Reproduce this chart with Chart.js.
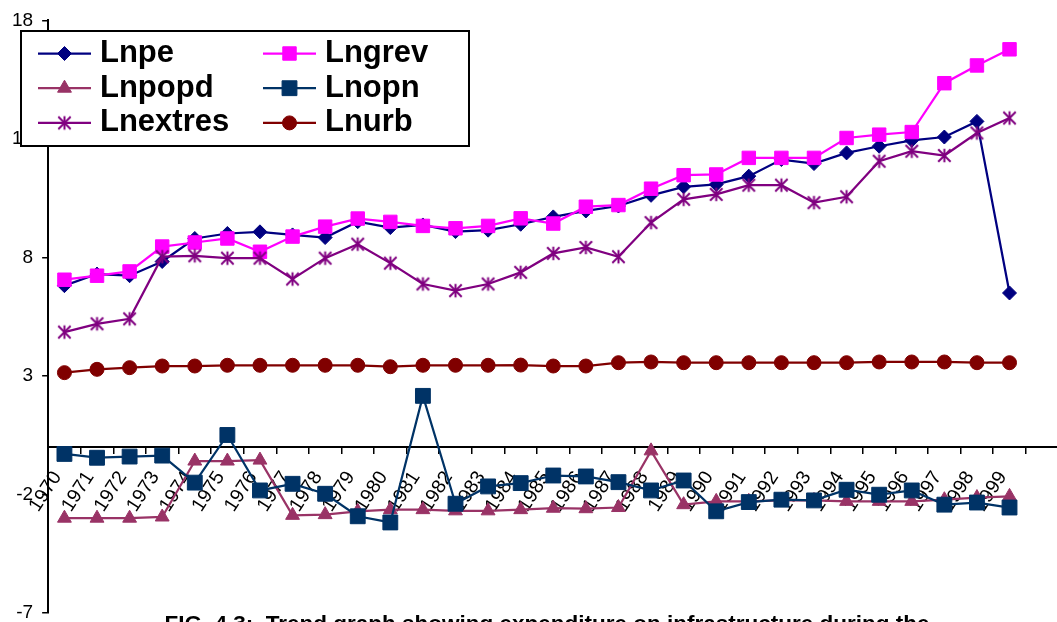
<!DOCTYPE html>
<html>
<head>
<meta charset="utf-8">
<script src="https://cdn.jsdelivr.net/npm/chart.js@4.4.1/dist/chart.umd.min.js"></script>
<style>
  html, body { margin: 0; padding: 0; overflow: hidden; background: #fff; }
  #wrap { width: 1110px; height: 660px; }
</style>
</head>
<body>
<div id="wrap"><canvas id="chart1" width="1110" height="660"></canvas></div>
<script>
// years on the category axis (two empty slots at the end, the axis runs on past 1999 off the picture)
var years = ["1970", "1971", "1972", "1973", "1974", "1975", "1976", "1977", "1978", "1979",
             "1980", "1981", "1982", "1983", "1984", "1985", "1986", "1987", "1988", "1989",
             "1990", "1991", "1992", "1993", "1994", "1995", "1996", "1997", "1998", "1999", "", ""]

var lnpe     = [6.81, 7.30, 7.23, 7.83, 8.80, 9.01, 9.08, 8.95, 8.84, 9.51,
                9.26, 9.37, 9.09, 9.15, 9.40, 9.71, 9.96, 10.17, 10.62, 10.98,
                11.08, 11.43, 12.13, 11.96, 12.41, 12.69, 12.94, 13.08, 13.74, 6.50]
var lngrev   = [7.06, 7.23, 7.41, 8.46, 8.63, 8.80, 8.24, 8.88, 9.30, 9.64,
                9.50, 9.33, 9.23, 9.33, 9.65, 9.43, 10.14, 10.21, 10.90, 11.47,
                11.50, 12.20, 12.20, 12.20, 13.04, 13.18, 13.29, 15.35, 16.10, 16.78]
var lnpopd   = [-3.00, -3.00, -3.00, -2.95, -0.59, -0.59, -0.55, -2.88, -2.85, -2.71,
                -2.64, -2.64, -2.69, -2.69, -2.64, -2.58, -2.60, -2.55, -0.16, -2.43,
                -2.29, -2.29, -2.25, -2.25, -2.29, -2.29, -2.29, -2.22, -2.13, -2.08]
var lnopn    = [-0.29, -0.45, -0.40, -0.36, -1.50, 0.51, -1.83, -1.55, -1.97, -2.92,
                -3.18, 2.16, -2.39, -1.66, -1.52, -1.20, -1.24, -1.48, -1.83, -1.41,
                -2.71, -2.32, -2.22, -2.25, -1.80, -2.01, -1.83, -2.43, -2.34, -2.55]
var lnextres = [4.85, 5.20, 5.41, 8.03, 8.07, 7.97, 7.97, 7.09, 7.97, 8.56,
                7.76, 6.88, 6.60, 6.88, 7.37, 8.17, 8.42, 8.03, 9.47, 10.45,
                10.66, 11.05, 11.05, 10.31, 10.56, 12.06, 12.48, 12.30, 13.25, 13.88]
var lnurb    = [3.14, 3.28, 3.35, 3.42, 3.42, 3.45, 3.45, 3.45, 3.45, 3.45,
                3.39, 3.45, 3.45, 3.45, 3.46, 3.42, 3.42, 3.56, 3.59, 3.56,
                3.56, 3.56, 3.56, 3.56, 3.56, 3.59, 3.59, 3.59, 3.56, 3.56]

var yTicks = [-7, -2, 3, 8, 13, 18]
var caption = "FIG. 4.3:  Trend graph showing expenditure on infrastructure during the"

Chart.defaults.font.family = '"Liberation Sans", Arial, sans-serif'
Chart.defaults.color = '#000'

// excel style star marker (X with a vertical bar)
function star_marker(color, r){
    var c = document.createElement('canvas')
    var s = Math.ceil(r * 2 + 4)
    c.width = s
    c.height = s
    var g = c.getContext('2d')
    var m = s / 2
    g.strokeStyle = color
    g.lineWidth = 2
    g.beginPath()
    g.moveTo(m - r, m - r); g.lineTo(m + r, m + r)
    g.moveTo(m + r, m - r); g.lineTo(m - r, m + r)
    g.moveTo(m, m - r - 0.5); g.lineTo(m, m + r + 0.5)
    g.stroke()
    return c
}

function series(label, data, color, style, radius, order){
    return {
        label: label,
        data: data,
        borderColor: color,
        backgroundColor: color,
        pointBackgroundColor: color,
        pointBorderColor: color,
        borderWidth: 2.25,
        pointStyle: style,
        pointRadius: radius,
        pointHoverRadius: radius,
        pointBorderWidth: 1,
        tension: 0,
        order: order
    }
}

// boxed two-column legend sitting over the top left of the plot
var boxLegend = {
    id: 'boxLegend',
    afterDraw: function(chart){
        var ctx = chart.ctx
        ctx.save()
        ctx.fillStyle = '#fff'
        ctx.fillRect(21, 31, 448, 115)
        ctx.strokeStyle = '#000'
        ctx.lineWidth = 2
        ctx.strokeRect(21, 31, 448, 115)
        ctx.font = 'bold 31px "Liberation Sans", Arial, sans-serif'
        ctx.textBaseline = 'middle'
        ctx.textAlign = 'left'
        chart.data.datasets.forEach(function(ds, i){
            var x = 38 + (i % 2) * 225
            var y = 53.5 + Math.floor(i / 2) * 34.7
            ctx.strokeStyle = ds.borderColor
            ctx.fillStyle = ds.borderColor
            ctx.lineWidth = ds.borderWidth
            ctx.beginPath()
            ctx.moveTo(x, y)
            ctx.lineTo(x + 53, y)
            ctx.stroke()
            ctx.lineWidth = 1
            if (Chart.helpers && Chart.helpers.drawPoint) {
                Chart.helpers.drawPoint(ctx, {pointStyle: ds.pointStyle, radius: ds.pointRadius, borderWidth: 1, rotation: 0}, x + 26.5, y)
            } else {
                ctx.beginPath(); ctx.arc(x + 26.5, y, ds.pointRadius, 0, Math.PI * 2); ctx.fill()
            }
            ctx.fillStyle = '#000'
            ctx.fillText(ds.label, x + 62, y)
        })
        ctx.restore()
    }
}

var ctx1 = document.getElementById('chart1')
var myChart = new Chart(ctx1, {
    type: 'line',
    data: {
        labels: years,
        datasets: [
            series('Lnpe', lnpe, '#000080', 'rectRot', 7, 6),
            series('Lngrev', lngrev, '#FF00FF', 'rect', 9.5, 5),
            series('Lnpopd', lnpopd, '#993366', 'triangle', 8, 4),
            series('Lnopn', lnopn, '#003366', 'rect', 10.5, 3),
            series('Lnextres', lnextres, '#800080', star_marker('#800080', 6.2), 7, 2),
            series('Lnurb', lnurb, '#800000', 'circle', 7, 1)
        ]
    },
    options: {
        responsive: false,
        animation: false,
        layout: {
            padding: {left: 3, right: 19, top: 17, bottom: 16}
        },
        scales: {
            x: {
                type: 'category',
                position: {y: 0},
                offset: true,
                grid: {
                    offset: true,
                    drawOnChartArea: false,
                    drawTicks: true,
                    tickLength: 6,
                    color: '#000',
                    lineWidth: 1.5
                },
                border: {display: true, color: '#000', width: 2},
                ticks: {
                    autoSkip: false,
                    minRotation: 57,
                    maxRotation: 57,
                    padding: 14,
                    labelOffset: -7,
                    font: {size: 19.5}
                }
            },
            y: {
                min: -7,
                max: 18,
                afterBuildTicks: function(scale){
                    scale.ticks = yTicks.map(function(v){ return {value: v} })
                },
                grid: {
                    drawOnChartArea: false,
                    drawTicks: true,
                    tickLength: 6,
                    color: '#000',
                    lineWidth: 1.5
                },
                border: {display: true, color: '#000', width: 2},
                ticks: {
                    padding: 9,
                    font: {size: 19}
                }
            }
        },
        plugins: {
            legend: {display: false},
            tooltip: {enabled: false},
            title: {
                display: true,
                position: 'bottom',
                text: caption,
                font: {size: 22.5, weight: 'bold'},
                padding: {top: -2, bottom: 6}
            }
        }
    },
    plugins: [boxLegend]
})
</script>
</body>
</html>
